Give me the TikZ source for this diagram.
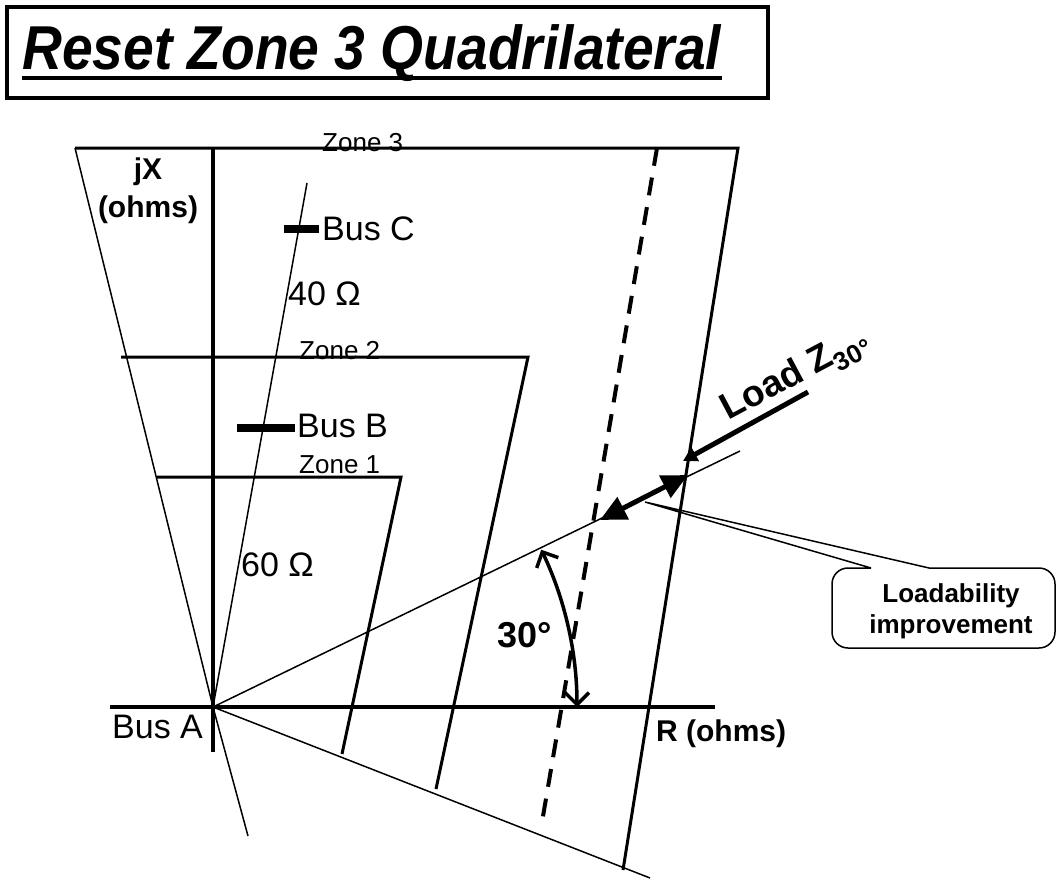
\documentclass[tikz,border=0pt]{standalone}
\usepackage{fontspec}
\setmainfont{Liberation Sans}
\usetikzlibrary{arrows.meta}
\begin{document}
\begin{tikzpicture}[x=1pt,y=-1pt,
  thinl/.style={line width=1.5pt},
  zoneline/.style={line width=3pt},
  axisline/.style={line width=4pt},
  busbar/.style={line width=8pt},
  lbl/.style={inner sep=0pt, font=\fontsize{34}{40}\selectfont},
  zlbl/.style={inner sep=0pt, font=\fontsize{26}{30}\selectfont},
  blbl/.style={inner sep=0pt, font=\fontsize{30}{36}\selectfont\bfseries},
  dashline/.style={line width=4pt, dash pattern=on 18pt off 12pt},
]
\useasboundingbox (0,0) rectangle (1057,880);
% title
\node (tbox) [draw, line width=4pt, minimum width=761pt, minimum height=91pt, anchor=north west, inner sep=0pt] at (5,5) {};
\node (ttl) [inner sep=0pt, anchor=base west, xscale=0.89, font=\fontsize{62}{66}\selectfont\bfseries\itshape] at (22,70) {Reset Zone 3 Quadrilateral};
\draw[line width=4pt] ([yshift=-8pt]ttl.base west) -- ([yshift=-8pt]ttl.base east);

% coordinates
\coordinate (O) at (213,707);
\coordinate (rL) at (110,707);
\coordinate (rR) at (715,707);
\coordinate (xT) at (213,148);
\coordinate (xB) at (213,752);
\coordinate (z3l) at (75,148);
\coordinate (z3r) at (738,148);
\coordinate (z3b) at (623,870);
\coordinate (lb) at (248,836);
\coordinate (z2l) at (121,357);
\coordinate (z2r) at (528,357);
\coordinate (z2b) at (436,789);
\coordinate (z1l) at (157,477);
\coordinate (z1r) at (401,477);
\coordinate (z1b) at (342,754);
\coordinate (low) at (650,878);
\coordinate (steep) at (307,183);
\coordinate (thirty) at (740,451);
\coordinate (dT) at (657,148);
\coordinate (dB) at (541,828);

% thin lines
\draw[thinl] (z3l) -- (O) -- (lb);
\draw[thinl] (O) -- (low);
\draw[thinl] (O) -- (steep);
\draw[thinl] (O) -- (thirty);
% zones
\draw[zoneline] (z3l) -- (z3r) -- (z3b);
\draw[zoneline] (z2l) -- (z2r) -- (z2b);
\draw[zoneline] (z1l) -- (z1r) -- (z1b);
% axes
\draw[axisline] (rL) -- (rR);
\draw[axisline] (xT) -- (xB);
% dashed load line
\draw[dashline] (dT) -- (dB);
% buses
\draw[busbar] (284,229) coordinate (bc1) -- (319,229) coordinate (bc2);
\draw[busbar] (237,428) coordinate (bb1) -- (295,428) coordinate (bb2);

% labels
\node (busC) [lbl, anchor=west] at (322,229) {Bus C};
\node (busB) [lbl, anchor=west] at (297,426) {Bus B};
\node (fortyO) [lbl, anchor=base west] at (288,305) {40 Ω};
\node (sixtyO) [lbl, anchor=base west] at (241,576) {60 Ω};
\node (busA) [lbl, anchor=base west] at (112,738) {Bus A};
\node (zn3) [zlbl, anchor=base west] at (322,151) {Zone 3};
\node (zn2) [zlbl, anchor=base west] at (299,359) {Zone 2};
\node (zn1) [zlbl, anchor=base west] at (299,473) {Zone 1};
\node (jx) [blbl] at (148,172) {jX};
\node (jxo) [blbl] at (148,210) {(ohms)};
\node (rax) [blbl, anchor=base west] at (656,741) {R (ohms)};
\node (ang) [inner sep=0pt, anchor=base west, font=\fontsize{36}{40}\selectfont\bfseries] at (497,647) {30°};

% 30 degree arc
\draw[line width=3.5pt, {Straight Barb[length=12pt,width=24pt,line width=3.5pt]}-{Straight Barb[length=12pt,width=24pt,line width=3.5pt]}]
  (O) ++(0:364) arc[start angle=0, end angle=-25.6, radius=364];

% load arrow
\coordinate (ldS) at (808,392);
\coordinate (ldE) at (683,461);
\draw[line width=5pt, -{Triangle[length=14pt,width=15pt]}] (ldS) -- (ldE);
\node (loadz) [inner sep=0pt, anchor=base west, rotate=28, font=\fontsize{37}{42}\selectfont\bfseries] at (728,421) {Load Z\textsubscript{30°}};

% loadability double arrow
\coordinate (la1) at (600,520);
\coordinate (la2) at (688,475);
\draw[line width=5pt, {Triangle[length=26pt,width=24pt]}-{Triangle[length=26pt,width=24pt]}] (la1) -- (la2);

% callout
\coordinate (ctip) at (645,502);
\draw[thinl] (871,568) -- (ctip) -- (929,568)
  [rounded corners=16pt] -- (1055,568) -- (1055,648) -- (832,648) -- (832,568) [sharp corners] -- (871,568);
\node (callt) [inner sep=0pt, align=center, font=\fontsize{26}{31}\selectfont\bfseries] at (951,611) {Loadability\\improvement};
\end{tikzpicture}
\end{document}
